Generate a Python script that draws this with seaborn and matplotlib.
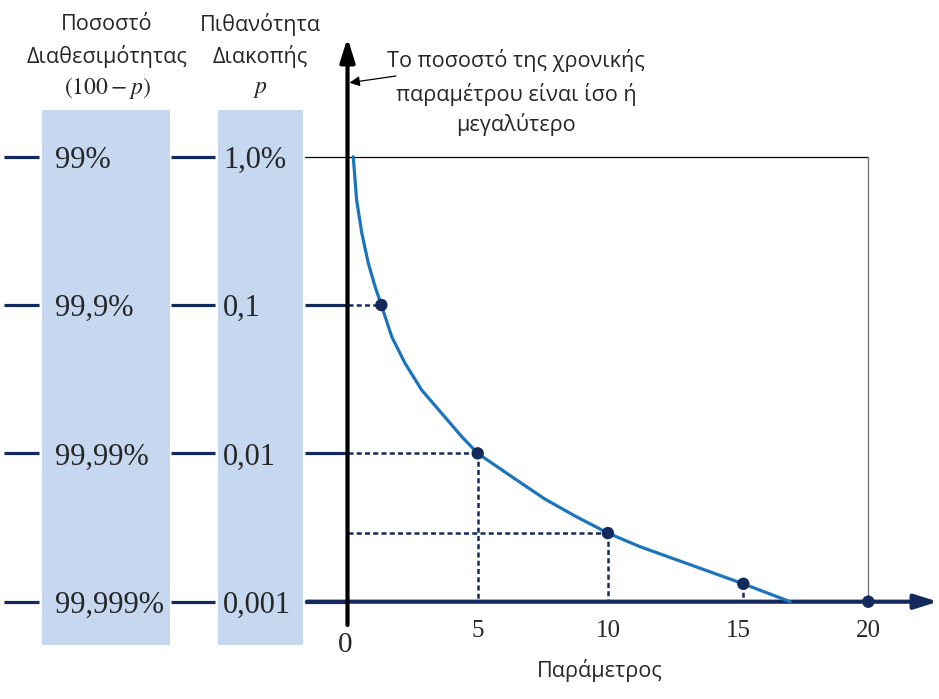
import matplotlib
matplotlib.use('Agg')
import matplotlib.pyplot as plt
import pandas as pd
import seaborn as sns

# ---------------- data ----------------
levels = [1.0, 0.1, 0.01, 0.001]
availability_labels = ['99%', '99,9%', '99,99%', '99,999%']
probability_labels = ['1,0%', '0,1', '0,01', '0,001']

curve_x = [0.22, 0.35, 0.55, 0.80, 1.06, 1.3, 1.70, 2.21, 2.85, 3.62, 4.39, 5.0,
           6.31, 7.58, 8.74, 10.0, 11.23, 13.03, 15.2, 17.0]
curve_y = [1.0, 0.511, 0.305, 0.191, 0.133, 0.1, 0.0611, 0.0405, 0.0267, 0.0186,
           0.01295, 0.01, 0.00696, 0.00492, 0.00378, 0.0029, 0.00235, 0.00181,
           0.00132, 0.001]

point_x = [1.3, 5, 10, 15.2, 20]
point_y = [0.1, 0.01, 0.0029, 0.00132, 0.001]

x_ticks = [0, 5, 10, 15, 20]
x_tick_labels = ['0', '5', '10', '15', '20']

header_avail = ['Ποσοστό', 'Διαθεσιμότητας', r'$(100-p)$']
header_prob = ['Πιθανότητα', 'Διακοπής', r'$p$']
note_lines = ['Το ποσοστό της χρονικής', 'παραμέτρου είναι ίσο ή', 'μεγαλύτερο']
x_label = 'Παράμετρος'

# ---------------- style ----------------
sns.set_theme(style='white')
plt.rcParams['font.family'] = ['Open Sans', 'DejaVu Sans']
plt.rcParams['mathtext.fontset'] = 'stix'

NAVY = '#14295e'
CURVE = '#1c75bc'
COLBG = '#c6d8ef'
SERIF = ['Liberation Serif', 'DejaVu Serif']
SANS_FS = 15.6

W, H = 939, 699
fig = plt.figure(figsize=(9.39, 6.99), dpi=100)
ax = fig.add_axes([0, 0, 1, 1])
ax.set_yscale('log')

X0, SX = 347.5, 26.04
Y0, SY = 156.7, 148.33


def X(px):
    return (px - X0) / SX


def Y(py):
    return 10 ** (-(py - Y0) / SY)


def fx(px):
    return px / W


def fy(py):
    return 1 - py / H


ax.set_xlim(X(0), X(W))
ax.set_ylim(Y(H), Y(0))
ax.axis('off')

# columns
for a, b in [(42, 170), (218, 303)]:
    ax.axvspan(X(a), X(b), ymin=fy(645), ymax=fy(110), color=COLBG, lw=0, zorder=0)

# level lines
for i, lvl in enumerate(levels):
    ax.plot([X(4), X(39)], [lvl, lvl], color=NAVY, lw=2.3, solid_capstyle='butt')
    ax.plot([X(171), X(215)], [lvl, lvl], color=NAVY, lw=2.3, solid_capstyle='butt')
    if i == 0:
        ax.plot([X(305), x_ticks[-1]], [lvl, lvl], color='black', lw=0.9)
    else:
        ax.plot([X(305), 0], [lvl, lvl], color=NAVY, lw=2.3, solid_capstyle='butt')

# thin vertical at x=20
ax.plot([x_ticks[-1], x_ticks[-1]], [levels[0], levels[-1]], color='#777777', lw=1.0)

# dotted guides
dash = (0, (2.0, 1.3))
for i in range(3):
    ax.plot([0, point_x[i]], [point_y[i], point_y[i]], color=NAVY, lw=1.8, ls=dash)
for i in range(1, 4):
    ax.plot([point_x[i], point_x[i]], [point_y[i], levels[-1]], color=NAVY, lw=1.8, ls=dash)

# axes arrows
ax.annotate('', xy=(X(938), levels[-1]), xytext=(X(307), levels[-1]),
            arrowprops=dict(arrowstyle='-|>,head_length=0.7,head_width=0.22', lw=3,
                            color=NAVY, mutation_scale=20, shrinkA=0, shrinkB=0), zorder=3)
ax.annotate('', xy=(0, Y(38)), xytext=(0, Y(625)),
            arrowprops=dict(arrowstyle='-|>,head_length=0.7,head_width=0.22', lw=3,
                            color='black', mutation_scale=20, shrinkA=0, shrinkB=0), zorder=3)

# curve and points
df_curve = pd.DataFrame({'x': curve_x, 'y': curve_y})
sns.lineplot(data=df_curve, x='x', y='y', ax=ax, color=CURVE, lw=2.3, sort=False, zorder=4)
df_pts = pd.DataFrame({'x': point_x, 'y': point_y})
sns.scatterplot(data=df_pts, x='x', y='y', ax=ax, color=NAVY, s=80, edgecolor='none', zorder=5)
ax.set_xlim(X(0), X(W))
ax.set_ylim(Y(H), Y(0))
ax.axis('off')

# column texts
for lvl, a, p in zip(levels, availability_labels, probability_labels):
    ax.text(X(55), lvl, a, ha='left', va='center_baseline', fontsize=22, family=SERIF)
    ax.text(X(223), lvl, p, ha='left', va='center_baseline', fontsize=22, family=SERIF)

# x tick labels
for xt, lab in zip(x_ticks, x_tick_labels):
    if xt == 0:
        ax.text(X(345), Y(645), lab, ha='center', va='center', fontsize=21, family=SERIF)
    else:
        ax.text(xt, Y(631), lab, ha='center', va='center', fontsize=18, family=SERIF)

# headers
for txt, py in zip(header_avail, [25, 57, 88]):
    fs = 17 if txt.startswith('$') else SANS_FS
    fig.text(fx(107), fy(py), txt, ha='center', va='center', fontsize=fs)
for txt, py in zip(header_prob, [25, 57, 88]):
    fs = 17 if txt.startswith('$') else SANS_FS
    fig.text(fx(260), fy(py), txt, ha='center', va='center', fontsize=fs)

# note
for txt, py in zip(note_lines, [61, 94, 124]):
    fig.text(fx(516), fy(py), txt, ha='center', va='center', fontsize=SANS_FS)
ax.annotate('', xy=(fx(349.5), fy(82.7)), xytext=(fx(396), fy(76)),
            xycoords='figure fraction', textcoords='figure fraction',
            arrowprops=dict(arrowstyle='-|>,head_length=0.5,head_width=0.25', lw=0.9,
                            color='black', mutation_scale=12, shrinkA=0, shrinkB=0))

fig.text(fx(600), fy(671), x_label, ha='center', va='center', fontsize=SANS_FS)

fig.savefig('out.png', dpi=100)
